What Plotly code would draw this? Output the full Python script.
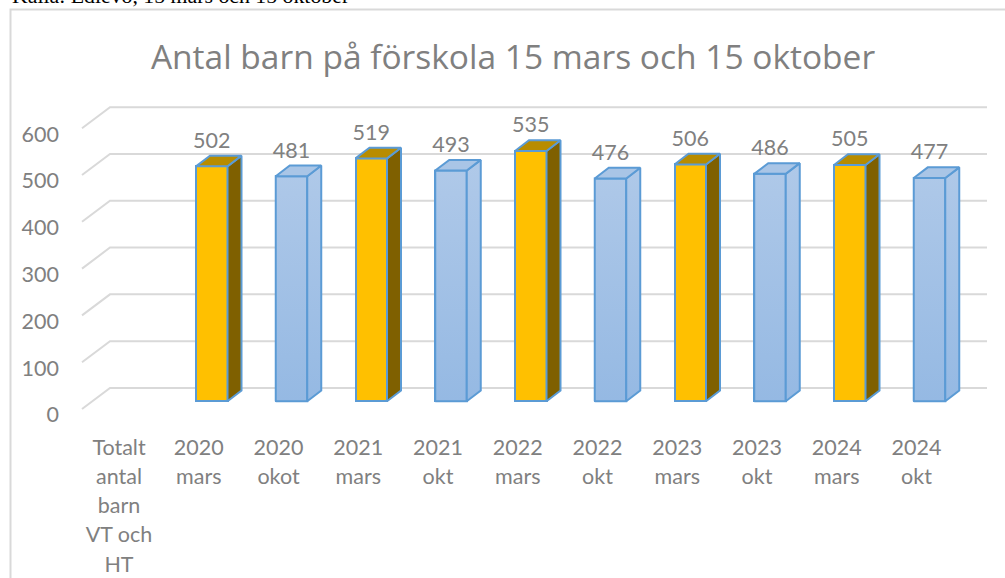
import plotly.graph_objects as go

categories = ["Totalt<br>antal<br>barn<br>VT och<br>HT", "2020<br>mars", "2020<br>okot", "2021<br>mars", "2021<br>okt",
              "2022<br>mars", "2022<br>okt", "2023<br>mars", "2023<br>okt", "2024<br>mars", "2024<br>okt"]
values = [None, 502, 481, 519, 493, 535, 476, 506, 486, 505, 477]
y_ticks = [0, 100, 200, 300, 400, 500, 600]
title_text = "Antal barn på förskola 15 mars och 15 oktober"
source_text = "Källa: Edlevo, 15 mars och 15 oktober"

W, H = 1005, 578
FONT = "Lato"
GREY = "#808080"
GRID = "#d9d9d9"
EDGE = "#5b9bd5"

# pixel calibration of the plot area
PX_L, PX_R, PX_T, PX_B = 60, 988, 90, 424
CAT0, CAT_STEP = 119.0, 79.75
Y0, Y_SCALE = 401.3, 0.468
LABEL_SHIFT = 13.5

xr = [(PX_L - CAT0) / CAT_STEP, (PX_R - CAT0) / CAT_STEP]
yr = [(Y0 - PX_B) / Y_SCALE, (Y0 - PX_T) / Y_SCALE]
yr_lab = [(Y0 + LABEL_SHIFT - PX_B) / Y_SCALE, (Y0 + LABEL_SHIFT - PX_T) / Y_SCALE]

BAR_W = 31.5 / CAT_STEP
BAR_OFF = 13.0 / CAT_STEP
DX, DV = 14.0 / CAT_STEP, 10.7 / Y_SCALE

idx = [i for i, v in enumerate(values) if v is not None]
is_mars = lambda i: "mars" in categories[i]

fig = go.Figure()

# invisible trace so that the label axis exists
fig.add_trace(go.Scatter(x=[xr[0]] * len(y_ticks), y=y_ticks, yaxis="y2", mode="none",
                         hoverinfo="skip", showlegend=False))

fig.add_trace(go.Bar(
    x=[i + BAR_OFF for i in idx], y=[values[i] for i in idx], width=BAR_W,
    marker=dict(color=["#ffc000" if is_mars(i) else "#a3c1e6" for i in idx],
                line=dict(color=EDGE, width=2)),
    showlegend=False, hoverinfo="skip"))


def poly(xs, ys, **kw):
    fig.add_trace(go.Scatter(x=xs + xs[:1], y=ys + ys[:1], mode="lines", fill="toself",
                             line=dict(color=EDGE, width=2),
                             showlegend=False, hoverinfo="skip", **kw))


BLUE_GRAD = dict(type="vertical", colorscale=[[0, "#95b9e3"], [1, "#b1cae9"]], start=0, stop=540)
for i in idx:
    v = values[i]
    l = i + BAR_OFF - BAR_W / 2
    r = i + BAR_OFF + BAR_W / 2
    if is_mars(i):
        poly([r, r + DX, r + DX, r], [0, DV, v + DV, v], fillcolor="#7f6000")
        poly([l, r, r + DX, l + DX], [v, v, v + DV, v + DV], fillcolor="#b88c00")
    else:
        poly([l, r, r, l], [0, 0, v, v], fillgradient=BLUE_GRAD)
        poly([r, r + DX, r + DX, r], [0, DV, v + DV, v], fillgradient=BLUE_GRAD)
        poly([l, r, r + DX, l + DX], [v, v, v + DV, v + DV], fillcolor="#a9c5e6")

# value labels
fig.add_trace(go.Scatter(
    x=[i + BAR_OFF for i in idx], y=[values[i] + 24 / Y_SCALE for i in idx],
    mode="text", text=[str(values[i]) for i in idx], textposition="middle center",
    textfont=dict(family=FONT, size=21.5, color=GREY), showlegend=False, hoverinfo="skip"))

# back wall grid lines with the slanted floor return, tied to the value scale
GX0, GX1, GX2 = (82 - CAT0) / CAT_STEP, (110 - CAT0) / CAT_STEP, (987 - CAT0) / CAT_STEP
shapes = []
for t in y_ticks:
    shapes.append(dict(type="path", layer="below", xref="x", yref="y",
                       path=f"M{GX0},{t - 16.5} L{GX1},{t + 28.5} L{GX2},{t + 28.5}",
                       line=dict(color=GRID, width=2)))
# chart frame: left and top edges, running off the picture
shapes.append(dict(type="path", layer="below", xref="paper", yref="paper",
                   path=f"M{10.5 / W},0 L{10.5 / W},{1 - 9.5 / H} L1,{1 - 9.5 / H}",
                   line=dict(color=GRID, width=2)))

fig.update_layout(
    width=W, height=H, autosize=False,
    margin=dict(l=0, r=0, t=0, b=0, autoexpand=False),
    paper_bgcolor="white", plot_bgcolor="rgba(0,0,0,0)",
    showlegend=False, bargap=0,
    font=dict(family=FONT, color=GREY),
    title=dict(text=title_text, x=513 / W, xanchor="center", xref="paper",
               y=1 - 57 / H, yanchor="middle", yref="paper",
               font=dict(family="Open Sans", size=33.5, color=GREY)),
    xaxis=dict(domain=[PX_L / W, PX_R / W], range=xr, tickmode="array",
               tickvals=list(range(len(categories))), ticktext=[
                   "<br>".join(f'<span style="font-size:21.5px">{p}</span>' for p in c.split("<br>"))
                   for c in categories],
               tickfont=dict(family=FONT, size=22.5, color=GREY), tickangle=0,
               showgrid=False, zeroline=False, showline=False, ticks="", ticklabelstandoff=7),
    yaxis=dict(domain=[1 - PX_B / H, 1 - PX_T / H], range=yr, visible=False, fixedrange=True),
    yaxis2=dict(domain=[1 - PX_B / H, 1 - PX_T / H], overlaying="y", anchor="x", side="left", range=yr_lab,
                tickmode="array", tickvals=y_ticks, showgrid=False, zeroline=False, showline=False,
                ticks="", tickfont=dict(family=FONT, size=21.5, color=GREY)),
    shapes=shapes,
    annotations=[dict(text=source_text, xref="paper", yref="paper", x=10 / W, y=1 + 4 / H,
                      xanchor="left", yanchor="middle", showarrow=False,
                      font=dict(family="Liberation Serif", size=21.8, color="black"))],
)

fig.write_html("out.html", config={"displayModeBar": False},
               post_script="document.body.style.margin='0';document.documentElement.style.overflow='hidden';")
